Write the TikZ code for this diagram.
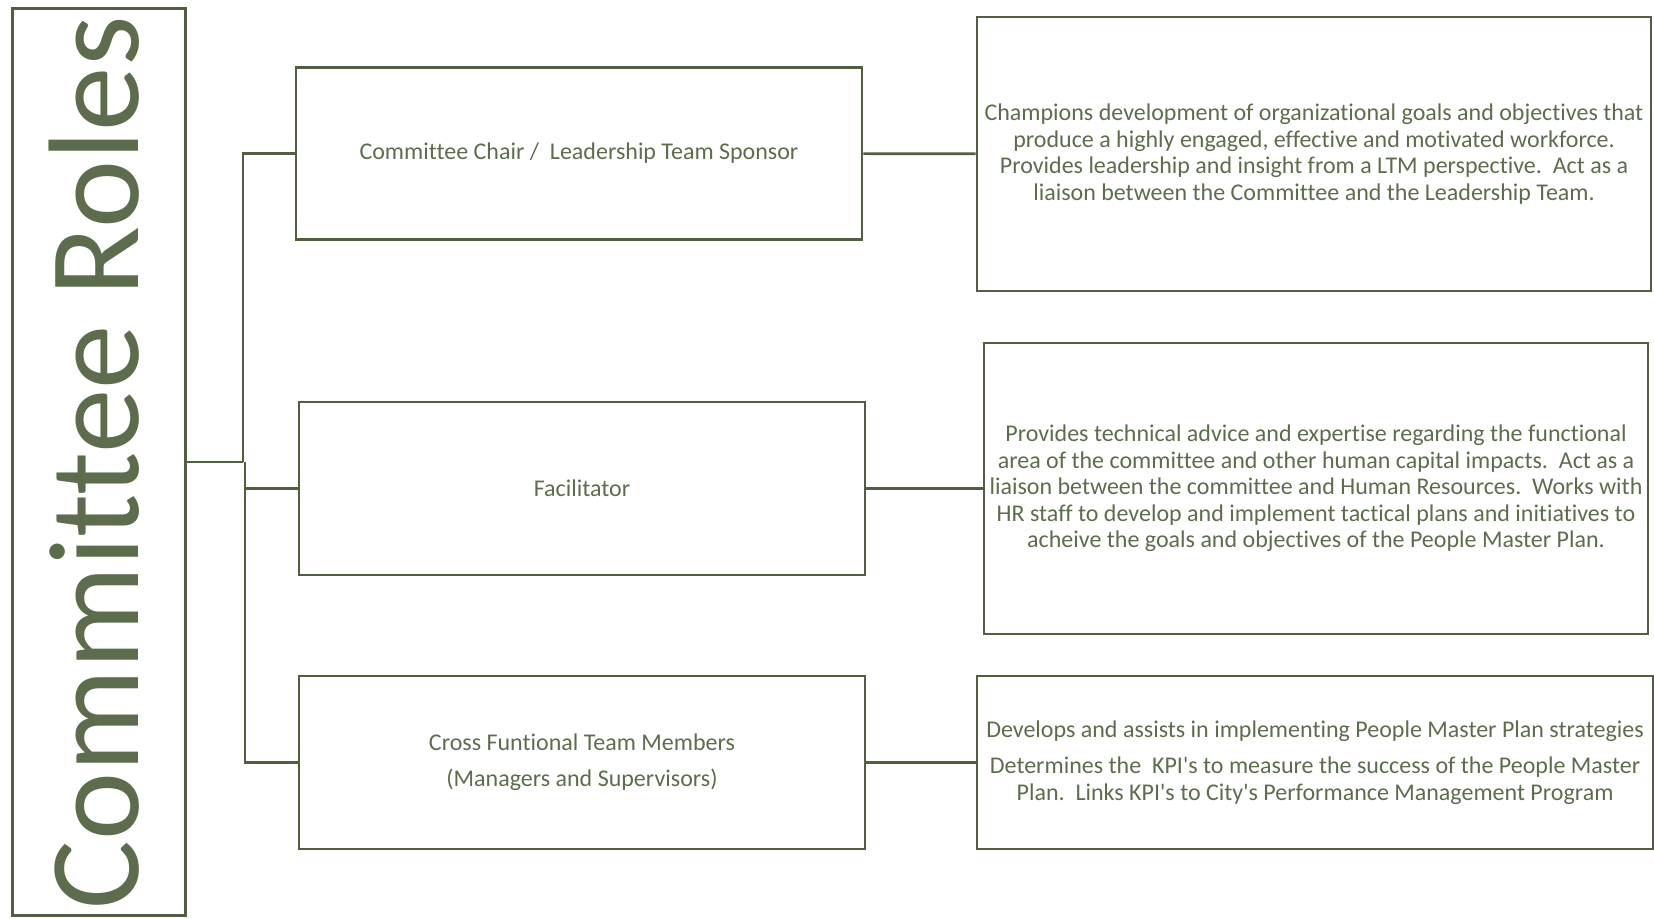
\documentclass[tikz,border=0pt]{standalone}
\usepackage{fontspec}
\setmainfont{Carlito}[Ligatures=NoCommon]
\usepackage{tikz}
\usetikzlibrary{positioning}
\usepackage{xcolor}
\definecolor{rolegreen}{RGB}{94,108,78}
\definecolor{roleline}{RGB}{82,94,66}

\begin{document}
\begin{tikzpicture}[x=1pt,y=-1pt]
	\useasboundingbox (0,0) rectangle (1654,918);
	\begin{scope}[every node/.style={rectangle,draw=roleline,line width=2.6pt,text=rolegreen,align=center,inner sep=0pt}]
		\node[minimum width=173pt,minimum height=907pt] (Title) at (99,462) {};
		\node[draw=none,rotate=90,font=\fontsize{129}{129}\selectfont] at (94,463) {Committee Roles};

		\node[minimum width=566pt,minimum height=172pt,font=\fontsize{24}{28}\selectfont] (Chair) at (579,153.5) {Committee Chair /\ \ Leadership Team Sponsor};
		\node[minimum width=566pt,minimum height=173pt,font=\fontsize{24}{28}\selectfont] (Facil) at (582,488.5) {Facilitator};
		\node[minimum width=566pt,minimum height=173pt,font=\fontsize{24}{36}\selectfont] (Cross) at (582,762.5) {Cross Funtional Team Members\\(Managers and Supervisors)};

		\node[minimum width=674pt,minimum height=274pt,font=\fontsize{24}{26.4}\selectfont] (ChairTxt) at (1314,154) {Champions development of organizational goals and objectives that\\produce a highly engaged, effective and motivated workforce.\\Provides leadership and insight from a LTM perspective.\ \ Act as a\\liaison between the Committee and the Leadership Team.};
		\node[minimum width=664pt,minimum height=291pt,font=\fontsize{24}{26.4}\selectfont] (FacilTxt) at (1316,488.5) {Provides technical advice and expertise regarding the functional\\area of the committee and other human capital impacts.\ \ Act as a\\liaison between the committee and Human Resources.\ \ Works with\\HR staff to develop and implement tactical plans and initiatives to\\acheive the goals and objectives of the People Master Plan.};
		\node[minimum width=676pt,minimum height=173pt,font=\fontsize{24}{26.4}\selectfont] (CrossTxt) at (1315,762.5) {Develops and assists in implementing People Master Plan strategies\\[10pt]Determines the\ \ KPI\textquotesingle s to measure the success of the People Master\\Plan.\ \ Links KPI\textquotesingle s to City\textquotesingle s Performance Management Program};
	\end{scope}

	\begin{scope}[draw=roleline,line width=2.6pt]
	\draw (Title.east) -- ++(56,0) coordinate (Split);
	\draw (Split) |- (Chair.west);
	\draw ([xshift=2pt]Split) |- (Facil.west);
	\draw ([xshift=2pt]Split) |- (Cross.west);
	\draw (Chair) -- (ChairTxt);
	\draw (Facil) -- (FacilTxt);
	\draw (Cross) -- (CrossTxt);
	\end{scope}
\end{tikzpicture}
\end{document}
